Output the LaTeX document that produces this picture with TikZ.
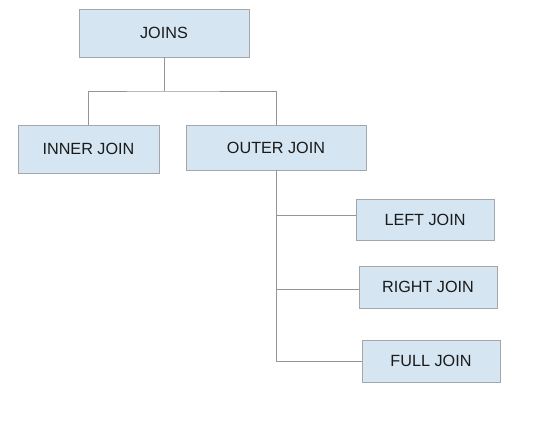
\documentclass[tikz,border=0pt]{standalone}
\usepackage{fontspec}
\setmainfont{Liberation Sans}
\usepackage{tikz}
\usetikzlibrary{calc}
\definecolor{boxfill}{HTML}{D5E6F2}
\definecolor{boxline}{HTML}{A3A7AB}
\definecolor{wire}{HTML}{959595}
\definecolor{ink}{HTML}{1A1A1A}

\begin{document}
\begin{tikzpicture}[x=1pt,y=-1pt,
    joinbox/.style={draw=boxline,fill=boxfill,line width=0.9pt,text=ink,
        font=\fontsize{16.2}{19}\selectfont,inner sep=0pt},
    wire/.style={draw=wire,line width=1pt}]
\useasboundingbox (0,0) rectangle (540,428);
% boxes
\node[joinbox,minimum width=170pt,minimum height=48pt] (joins) at (164,33) {JOINS};
\node[joinbox,minimum width=141pt,minimum height=48pt] (inner) at (88.5,149) {INNER JOIN};
\node[joinbox,minimum width=180pt,minimum height=45pt] (outer) at (276,147.5) {OUTER JOIN};
\node[joinbox,minimum width=138pt,minimum height=41pt] (left) at (425,219.5) {LEFT JOIN};
\node[joinbox,minimum width=138pt,minimum height=42pt] (right) at (428,287) {RIGHT JOIN};
\node[joinbox,minimum width=138pt,minimum height=42pt] (full) at (431,361) {FULL JOIN};
% lines
\coordinate (bus) at (164,91);
\draw[wire] (joins.south) -- (bus);
\draw[wire] (inner.north) |- (bus) -| (outer.north);
\draw[wire] (outer.south) |- ([yshift=4.5pt]left.west);
\draw[wire] (outer.south) |- ([yshift=-2pt]right.west);
\draw[wire] (outer.south) |- (full.west);
\end{tikzpicture}
\end{document}
